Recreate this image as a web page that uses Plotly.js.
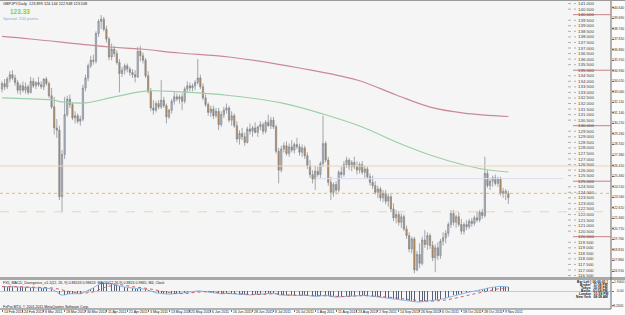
<!DOCTYPE html>
<html><head><meta charset="utf-8">
<script src="https://cdn.plot.ly/plotly-3.0.1.min.js"></script>
<style>html,body{margin:0;padding:0;background:#fff;overflow:hidden}#c{width:625px;height:315px}</style>
</head><body><div id="c"></div>
<script>
// ---- data ----
const ohlc = [
[133.3,134.0,133.0,133.8],[133.8,134.2,133.2,133.5],[133.5,134.4,133.3,134.2],[134.2,134.9,133.9,134.6],[134.6,135.0,134.1,134.3],
[134.3,134.6,133.6,133.9],[133.9,134.1,132.9,133.2],[133.2,133.8,132.8,133.6],[133.6,134.0,133.0,133.2],[133.2,133.9,132.9,133.5],
[133.5,133.7,132.8,133.0],[133.0,134.4,132.9,134.0],[134.0,134.3,133.4,133.6],[133.6,134.0,133.3,133.9],[133.9,134.4,133.5,133.7],
[133.7,134.0,133.3,133.5],[133.5,134.3,133.2,134.2],[134.2,134.4,133.6,133.8],[133.8,134.0,132.5,132.7],[132.7,133.4,131.5,131.7],
[131.7,132.6,129.2,129.8],[129.8,130.6,128.9,129.6],[129.6,130.0,123.3,123.6],[123.6,127.8,122.2,127.4],[127.4,132.6,127.0,131.0],
[131.0,132.7,130.8,132.4],[132.4,132.8,131.6,131.9],[131.9,132.1,130.5,130.7],[130.7,131.3,130.2,130.9],[130.9,131.1,130.2,130.4],
[130.4,130.9,130.0,130.6],[130.6,133.7,130.4,133.4],[133.4,134.6,133.1,134.3],[134.3,135.6,134.0,135.4],[135.4,136.3,135.2,135.9],
[135.9,136.4,135.5,135.8],[135.8,138.5,135.6,138.3],[138.3,139.6,138.0,139.4],[139.4,139.97,138.7,139.6],[139.6,139.8,138.5,138.7],
[138.7,139.0,137.5,137.8],[137.8,138.0,135.9,136.2],[136.2,137.4,135.9,136.9],[136.9,137.2,136.2,136.5],[136.5,136.8,135.5,135.7],
[135.7,136.0,133.0,134.7],[134.7,135.3,134.4,135.0],[135.0,135.6,134.6,135.4],[135.4,135.6,134.8,135.1],[135.1,135.3,134.5,134.8],
[134.8,135.1,134.3,134.6],[134.6,135.0,133.9,134.4],[134.4,137.1,134.3,136.7],[136.7,137.2,135.8,136.3],[136.3,136.6,135.6,135.9],
[135.9,136.1,134.3,134.5],[134.5,134.9,132.9,133.1],[133.1,133.4,131.3,131.6],[131.6,132.3,131.0,131.4],[131.4,132.2,131.2,132.0],
[132.0,132.3,131.5,131.7],[131.7,134.1,131.5,132.3],[132.3,132.6,131.6,131.8],[131.8,132.0,130.2,130.8],[130.8,131.5,130.6,131.4],
[131.4,132.4,131.1,132.2],[132.2,133.0,131.9,132.6],[132.6,132.9,132.2,132.4],[132.4,132.8,132.0,132.6],[132.6,132.9,131.4,132.2],
[132.2,133.5,132.0,133.3],[133.3,134.0,133.0,133.6],[133.6,133.9,133.1,133.4],[133.4,133.8,133.1,133.6],[133.6,134.1,133.2,133.9],
[133.9,136.0,133.7,134.3],[134.3,134.6,133.3,133.5],[133.5,133.8,132.3,132.5],[132.5,132.8,131.7,131.9],[131.9,132.1,130.9,131.2],
[131.2,131.8,130.8,131.5],[131.5,131.8,130.6,130.9],[130.9,131.6,130.7,131.3],[131.3,131.6,129.6,130.1],[130.1,131.3,129.9,131.0],
[131.0,131.7,130.7,131.4],[131.4,132.0,131.1,131.6],[131.6,131.8,130.3,130.5],[130.5,131.3,130.0,130.9],[130.9,131.1,129.8,130.0],
[130.0,130.4,128.5,128.8],[128.8,129.6,128.3,129.3],[129.3,129.8,128.7,129.0],[129.0,129.4,128.2,128.5],[128.5,129.9,128.4,129.7],
[129.7,130.2,129.2,129.5],[129.5,130.0,129.0,129.8],[129.8,130.3,129.3,129.4],[129.4,130.0,129.0,129.9],[129.9,130.4,129.6,130.1],
[130.1,130.3,129.2,129.5],[129.5,130.5,129.3,130.3],[130.3,131.0,129.9,130.0],[130.0,130.8,129.7,130.5],[130.5,130.8,129.7,129.9],
[129.9,130.1,127.5,127.7],[127.7,128.0,124.8,126.0],[126.0,128.2,125.8,127.9],[127.9,128.5,127.6,128.2],[128.2,128.6,127.3,127.5],
[127.5,128.4,127.2,128.1],[128.1,128.7,127.6,127.8],[127.8,128.5,127.5,128.3],[128.3,128.9,127.9,128.1],[128.1,128.4,127.3,127.6],
[127.6,128.3,127.2,128.0],[128.0,128.2,127.0,127.3],[127.3,127.6,126.1,126.4],[126.4,126.9,125.3,125.6],[125.6,126.0,124.8,125.2],
[125.2,126.4,124.2,125.9],[125.9,126.3,125.4,125.6],[125.6,126.8,125.3,126.6],[126.6,130.9,126.3,128.4],[128.4,128.6,126.7,126.9],
[126.9,127.2,124.6,124.9],[124.9,125.4,123.3,124.0],[124.0,124.9,123.6,124.7],[124.7,125.0,123.8,124.2],[124.2,126.0,124.0,125.8],
[125.8,126.3,125.3,125.6],[125.6,126.8,125.4,126.5],[126.5,127.2,126.2,126.9],[126.9,127.1,126.0,126.3],[126.3,126.9,125.9,126.7],
[126.7,127.2,126.1,126.3],[126.3,126.8,125.6,126.0],[126.0,126.7,125.7,126.5],[126.5,126.8,125.6,125.8],[125.8,126.4,125.3,126.1],
[126.1,126.3,125.2,125.4],[125.4,125.7,124.6,124.9],[124.9,125.5,124.3,124.6],[124.6,125.0,123.8,124.0],[124.0,124.6,123.5,124.3],
[124.3,124.5,123.2,123.5],[123.5,124.2,123.1,123.9],[123.9,124.2,122.9,123.2],[123.2,123.9,122.7,123.6],[123.6,123.8,122.2,122.5],
[122.5,123.0,121.4,121.7],[121.7,122.4,121.2,122.0],[122.0,122.3,121.0,121.3],[121.3,122.1,120.8,121.8],[121.8,122.0,120.5,120.7],
[120.7,121.0,119.8,120.1],[120.1,120.4,118.6,118.9],[118.9,120.0,118.5,119.8],[119.8,120.0,116.7,117.0],[117.0,118.7,116.9,118.4],
[118.4,119.4,117.2,117.6],[117.6,120.0,117.4,119.7],[119.7,120.6,119.0,119.3],[119.3,120.4,118.8,120.1],[120.1,120.3,118.9,119.2],
[119.2,119.6,117.8,118.1],[118.1,119.3,116.8,119.0],[119.0,119.5,117.9,118.3],[118.3,119.8,118.0,119.6],[119.6,120.4,119.2,119.9],
[119.9,120.6,119.4,120.3],[120.3,121.3,120.0,121.1],[121.1,122.4,120.8,122.1],[122.1,122.4,121.0,121.3],[121.3,122.0,120.8,121.8],
[121.8,122.2,120.9,121.1],[121.1,121.6,120.2,120.5],[120.5,121.3,120.2,121.1],[121.1,121.5,120.6,120.9],[120.9,121.6,120.7,121.4],
[121.4,121.7,120.9,121.2],[121.2,121.9,121.0,121.7],[121.7,122.3,121.3,121.5],[121.5,122.4,121.3,122.2],[122.2,122.5,121.6,121.9],
[121.9,127.2,121.7,125.7],[125.7,126.0,124.4,124.6],[124.6,125.3,124.2,125.0],[125.0,125.5,124.5,125.3],[125.3,125.6,124.6,124.8],
[124.8,125.4,124.5,125.2],[125.2,125.4,123.7,123.9],[123.9,124.4,123.5,124.1],[124.1,124.3,123.3,123.9],[123.899,124.144,122.948,123.508]
];
const tickLabels = ["14 Feb 2011","24 Feb 2011","8 Mar 2011","18 Mar 2011","30 Mar 2011","11 Apr 2011","21 Apr 2011","3 May 2011","13 May 2011","25 May 2011","6 Jun 2011","16 Jun 2011","28 Jun 2011","8 Jul 2011","20 Jul 2011","1 Aug 2011","11 Aug 2011","23 Aug 2011","2 Sep 2011","14 Sep 2011","26 Sep 2011","6 Oct 2011","18 Oct 2011","28 Oct 2011","9 Nov 2011"];
// moving averages read at sample bars
const maRedBars = [0,11,41,53,68,87,114,136,151,164,177,194];
const maRedVals = [138.04,137.81,137.09,136.91,136.55,136.19,135.20,134.12,132.77,131.68,131.14,130.83];
const maGreenBars = [0,11,19,23,32,43,56,68,87,107,123,138,151,164,177,184,194];
const maGreenVals = [132.50,132.41,132.32,132.14,132.05,132.59,133.13,133.04,132.72,132.05,131.05,129.88,128.53,127.36,126.46,126.10,125.83];
// MACD
const macdMain = [0.95,0.95,0.97,1.0,1.0,0.98,0.92,0.88,0.85,0.82,
0.78,0.8,0.8,0.78,0.76,0.72,0.7,0.66,0.55,0.4,
0.1,-0.15,-0.7,-0.9,-0.85,-0.7,-0.6,-0.6,-0.6,-0.62,
-0.6,-0.4,-0.15,0.15,0.45,0.7,1.05,1.4,1.65,1.75,
1.75,1.65,1.55,1.45,1.3,1.1,0.95,0.85,0.75,0.65,
0.55,0.45,0.5,0.52,0.48,0.38,0.2,-0.05,-0.25,-0.4,
-0.5,-0.5,-0.55,-0.65,-0.7,-0.68,-0.6,-0.55,-0.5,-0.45,
-0.35,-0.25,-0.15,-0.08,-0.02,0.02,0.0,-0.08,-0.2,-0.32,
-0.42,-0.5,-0.55,-0.62,-0.62,-0.58,-0.52,-0.55,-0.6,-0.65,
-0.75,-0.8,-0.85,-0.9,-0.88,-0.85,-0.82,-0.8,-0.76,-0.7,
-0.68,-0.6,-0.55,-0.5,-0.5,-0.62,-0.85,-0.92,-0.95,-0.98,
-0.98,-0.98,-0.95,-0.92,-0.92,-0.9,-0.9,-0.95,-1.05,-1.18,
-1.2,-1.15,-1.08,-0.95,-0.92,-1.05,-1.2,-1.3,-1.35,-1.3,
-1.25,-1.2,-1.15,-1.1,-1.05,-1.02,-1.0,-0.98,-0.98,-1.0,
-1.02,-1.08,-1.15,-1.22,-1.3,-1.38,-1.45,-1.5,-1.55,-1.62,
-1.7,-1.78,-1.85,-1.92,-1.98,-2.05,-2.12,-2.2,-2.35,-2.4,
-2.4,-2.35,-2.28,-2.22,-2.15,-2.1,-2.05,-1.95,-1.85,-1.7,
-1.55,-1.35,-1.15,-0.95,-0.8,-0.65,-0.55,-0.45,-0.35,-0.25,
-0.15,-0.05,0.05,0.15,0.22,0.45,0.62,0.75,0.85,0.92,
0.98,1.0,0.98,0.95,0.9];
const sigBars = [0,5,10,15,20,25,30,35,40,45,50,55,60,65,70,75,80,85,90,95,100,105,110,115,120,125,130,135,140,145,150,155,160,165,170,175,180,185,190,194];
const sigVals = [0.95,0.95,0.85,0.78,0.6,0.0,-0.45,-0.2,0.9,1.35,0.95,0.6,0.1,-0.45,-0.55,-0.25,-0.15,-0.45,-0.55,-0.75,-0.75,-0.6,-0.85,-0.92,-1.0,-1.08,-1.2,-1.1,-1.02,-1.2,-1.45,-1.8,-2.1,-2.2,-1.95,-1.4,-0.75,-0.15,0.45,0.7];
// levels
const levelSolid = 126.37, levelBlue = 125.23, levelDotted = 123.91, levelDashed = 122.25;
const gridLabels = ["141.000","140.500","140.000","139.500","139.000","138.500","138.000","137.500","137.000","136.500","136.000","135.500","135.000","134.500","134.000","133.500","133.000","132.500","132.000","131.500","131.000","130.500","130.000","129.500","129.000","128.500","128.000","127.500","127.000","126.500","126.000","125.500","125.000","124.500","124.000","123.500","123.000","122.500","122.000","121.500","121.000","120.500","120.000","119.500","119.000","118.500","118.000","117.500","117.000","116.500"];
const axisLabels = ["140.640","139.690","138.740","137.810","136.860","135.910","134.960","134.010","133.060","132.110","131.160","130.210","129.260","128.310","127.360","126.410","125.460","124.510","123.560","122.610","121.660","120.710","119.760","118.810","117.860","116.910"];
const macdAxisLabels = ["1.9000","0.00","-3.2405"];
const macdAxisVals = [1.9,0,-3.24];
const infoLines = ["Bar Left [ 00:00:01 ]","Broker   11:58 PM","Tokyo   10:58 PM","Berlin   01:58 PM","London   01:58 PM","New York   08:58 AM"];

// ---- build ----
const n = ohlc.length;
const idx = [...Array(n).keys()];
const mon = ["Jan","Feb","Mar","Apr","May","Jun","Jul","Aug","Sep","Oct","Nov","Dec"];
const dates = []; let d = new Date(Date.UTC(2011,1,14));
while (dates.length < n) { const w=d.getUTCDay(); if (w!==0 && w!==6) dates.push(d.getUTCDate()+" "+mon[d.getUTCMonth()]+" "+d.getUTCFullYear()); d = new Date(d.getTime()+86400000); }
const tickvals = tickLabels.map(t => dates.indexOf(t));

const W=625,H=315, XR=611;
const yTop = 1, yBot = 277;
const priceTop = 140 + (14.7-yTop)/11.1, priceBot = 140 - (yBot-14.7)/11.1;
const xMin = -2/2.61, xMax = (XR-2)/2.61;
const px = v => 1 - v/H;
const F = 'Liberation Sans, Arial, sans-serif';

const traces = [
 {type:'candlestick', x:idx, open:ohlc.map(r=>r[0]), high:ohlc.map(r=>r[1]), low:ohlc.map(r=>r[2]), close:ohlc.map(r=>r[3]),
  increasing:{line:{color:'#7f858e',width:0.7}, fillcolor:'#b7bec9'},
  decreasing:{line:{color:'#7f858e',width:0.7}, fillcolor:'#c8873c'},
  whiskerwidth:0, hoverinfo:'skip', xaxis:'x', yaxis:'y'},
 {type:'scatter', mode:'lines', x:maRedBars, y:maRedVals, line:{color:'#c98a96',width:1.2,shape:'spline'}, xaxis:'x', yaxis:'y', hoverinfo:'skip'},
 {type:'scatter', mode:'lines', x:maGreenBars, y:maGreenVals, line:{color:'#9ccfa8',width:1.2,shape:'spline'}, xaxis:'x', yaxis:'y', hoverinfo:'skip'},
 {type:'bar', x:idx, y:macdMain, marker:{color:'#55607a'}, width:0.3, xaxis:'x', yaxis:'y2', hoverinfo:'skip'},
 {type:'scatter', mode:'lines', x:idx, y:macdMain, line:{color:'#8ab8e6',width:1}, xaxis:'x', yaxis:'y2', hoverinfo:'skip'},
 {type:'scatter', mode:'lines', x:sigBars, y:sigVals, line:{color:'#d06060',width:1,dash:'dot',shape:'spline'}, xaxis:'x', yaxis:'y2', hoverinfo:'skip'}
];

const shapes = [
 {type:'line', xref:'paper', yref:'y', x0:0, x1:XR/W, y0:levelSolid, y1:levelSolid, line:{color:'#ead7b5',width:1}},
 {type:'line', xref:'x', yref:'y', x0:120, x1:(563-2)/2.61, y0:levelBlue, y1:levelBlue, line:{color:'#d8dcf2',width:1}},
 {type:'line', xref:'paper', yref:'y', x0:0, x1:XR/W, y0:levelDotted, y1:levelDotted, line:{color:'#e3b77a',width:1,dash:'dot'}},
 {type:'line', xref:'paper', yref:'y', x0:0, x1:XR/W, y0:levelDashed, y1:levelDashed, line:{color:'#ecd3a6',width:1.2,dash:'dash'}},
 {type:'rect', xref:'paper', yref:'paper', x0:0, x1:1, y0:px(280), y1:px(277), fillcolor:'#a8a8a8', line:{width:0}},
 {type:'line', xref:'paper', yref:'paper', x0:XR/W, x1:XR/W, y0:px(309), y1:1, line:{color:'#6a6a6a',width:1}},
 {type:'line', xref:'paper', yref:'paper', x0:0, x1:XR/W, y0:px(309), y1:px(309), line:{color:'#6a6a6a',width:1}},
 {type:'line', xref:'paper', yref:'paper', x0:0, x1:1, y0:px(0.5), y1:px(0.5), line:{color:'#9a9a9a',width:1}}
];
const annotations = [];
gridLabels.forEach(t => {
  const v = parseFloat(t);
  const whole5 = Math.abs(v/5 - Math.round(v/5)) < 1e-6;
  if (whole5) shapes.push({type:'line', xref:'paper', yref:'y', x0:573/W, x1:XR/W, y0:v, y1:v, line:{color:'#c98080',width:1}});
  else shapes.push({type:'line', xref:'paper', yref:'y', x0:568/W, x1:576/W, y0:v, y1:v, line:{color:'#b0b0b0',width:1,dash:'dot'}});
  annotations.push({xref:'paper', yref:'y', x:596/W, y:v, text:t, showarrow:false, xanchor:'right', yanchor:'middle', font:{family:F,size:4.4,color:'#444'}});
});
// right price-scale labels
axisLabels.forEach(t => annotations.push({xref:'paper', yref:'y', x:624.5/W, y:Number(t), text:t, showarrow:false, xanchor:'right', yanchor:'middle', borderpad:0, font:{family:F,size:3.4,color:'#333'}}));
macdAxisLabels.forEach((t,k) => annotations.push({xref:'paper', yref:'y2', x:624.5/W, y:macdAxisVals[k], text:t, showarrow:false, xanchor:'right', yanchor:'middle', borderpad:0, font:{family:F,size:3.4,color:'#333'}}));
// date labels, to the right of their ticks, kept inside the page
tickvals.forEach((v,k) => annotations.push({xref:'x', yref:'paper', x:v, y:px(314.6), text:tickLabels[k], showarrow:false, xanchor:'left', yanchor:'bottom', xshift:0.5, borderpad:0, font:{family:F,size:3.5,color:'#222'}}));
annotations.push(
 {xref:'paper',yref:'paper',x:2/W,y:px(1.2),text:'GBPJPY,Daily  123.899 124.144 122.948 123.508',showarrow:false,xanchor:'left',yanchor:'top',borderpad:0,font:{family:F,size:3.8,color:'#222'}},
 {xref:'paper',yref:'paper',x:9/W,y:px(6.5),text:'<b>123.33</b>',showarrow:false,xanchor:'left',yanchor:'top',borderpad:0,font:{family:F,size:6.5,color:'#7cd43a'}},
 {xref:'paper',yref:'paper',x:2/W,y:px(14.5),text:'Spread: 200 points.',showarrow:false,xanchor:'left',yanchor:'top',borderpad:0,font:{family:F,size:4.2,color:'#8ab0d8'}},
 {xref:'paper',yref:'paper',x:2/W,y:px(280),text:'FX5_MACD_Divergence_v1.1(12, 26, 9) 0.88243 0.98653  MACD(12,26,9) 0.8824 0.9865, M4, Clock',showarrow:false,xanchor:'left',yanchor:'top',borderpad:0,font:{family:F,size:3.6,color:'#222'}},
 {xref:'paper',yref:'paper',x:2/W,y:px(304),text:'FxPro MT4, © 2001-2011 MetaQuotes Software Corp.',showarrow:false,xanchor:'left',yanchor:'top',borderpad:0,font:{family:F,size:3.6,color:'#222'}}
);
infoLines.forEach((t,k) => annotations.push({xref:'paper',yref:'paper',x:609/W,y:px(281.5+3.1*k),text:'<b>'+t+'</b>',showarrow:false,xanchor:'right',yanchor:'middle',borderpad:0,font:{family:F,size:3.3,color:'#222'}}));

const layout = {
 width:W, height:H, margin:{l:0,r:0,t:0,b:0}, paper_bgcolor:'#fbfbfb', plot_bgcolor:'#f5f5f5', showlegend:false, bargap:0,
 xaxis:{domain:[0,XR/W], range:[xMin,xMax], anchor:'y2', rangeslider:{visible:false}, showgrid:false, zeroline:false,
   tickvals:tickvals, showticklabels:false, ticks:'outside', ticklen:1.5, tickcolor:'#777', fixedrange:true},
 yaxis:{domain:[px(yBot),px(yTop)], range:[priceBot,priceTop], side:'right', anchor:'x', showgrid:false, zeroline:false,
   tickvals:axisLabels.map(Number), showticklabels:false, ticks:'outside', ticklen:1.5, tickcolor:'#777'},
 yaxis2:{domain:[px(309),px(280)], range:[-3.93,2.4], side:'right', anchor:'x', showgrid:false, zeroline:true, zerolinecolor:'#c8c8c8', zerolinewidth:1,
   tickvals:macdAxisVals, showticklabels:false, ticks:'outside', ticklen:1.5, tickcolor:'#777'},
 shapes:shapes, annotations:annotations
};
Plotly.newPlot('c', traces, layout, {staticPlot:true, displayModeBar:false});
</script></body></html>
